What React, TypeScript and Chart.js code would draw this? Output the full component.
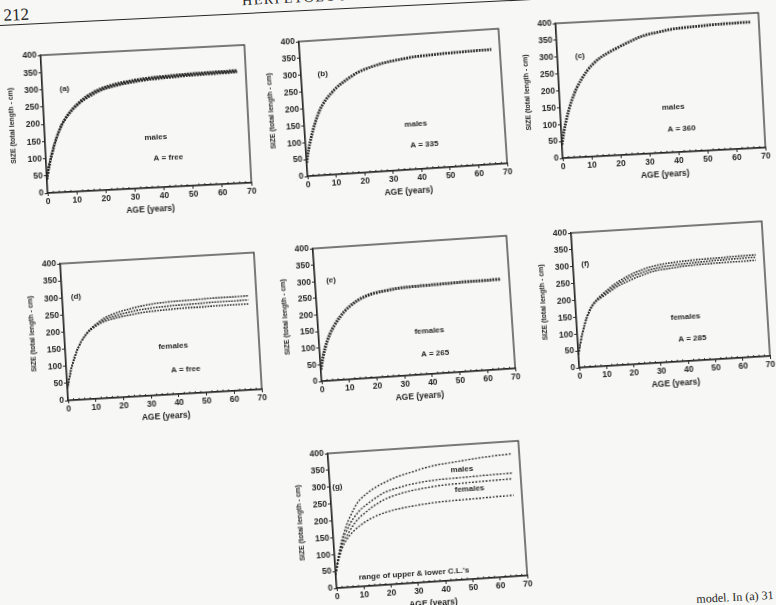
import React, { useEffect, useRef } from "react";
import { Chart, registerables } from "chart.js";

Chart.register(...registerables);

// ---------- data ----------
const AGES = [0, 1, 2, 3, 4, 5, 6, 8, 10, 12, 15, 20, 25, 30, 35, 40, 45, 50, 55, 60, 67];
const X_TICKS = [0, 10, 20, 30, 40, 50, 60, 70];
const Y_TICKS = [0, 50, 100, 150, 200, 250, 300, 350, 400];
const X_MINOR = [2, 4, 6, 8, 12, 14, 16, 18, 22, 24, 26, 28, 32, 34, 36, 38, 42, 44, 46, 48, 52, 54, 56, 58, 62, 64, 66, 68];

// (a) males, A = free (fit + upper/lower C.L.)
const A_UPPER = [40, 78, 109, 136, 159, 179, 196, 221, 241, 256, 275, 295, 306, 313, 318, 321, 323, 325, 326, 327, 328];
const A_FIT = [40, 78, 108, 135, 158, 178, 195, 220, 239, 254, 272, 292, 303, 310, 315, 318, 320, 322, 323, 324, 325];
const A_LOWER = [40, 78, 107, 134, 157, 177, 194, 219, 237, 252, 269, 289, 300, 307, 312, 315, 317, 319, 320, 321, 322];
// (b) males, A = 335
const B_FIT = [40, 80, 110, 137, 160, 180, 197, 222, 240, 256, 274, 298, 312, 322, 328, 333, 335, 337, 338, 339, 340];
// (c) males, A = 360
const C_FIT = [40, 82, 114, 142, 166, 186, 204, 232, 255, 273, 293, 315, 334, 350, 358, 365, 368, 370, 372, 373, 374];
// (d) females, A = free
const D_UPPER = [35, 68, 97, 120, 140, 156, 170, 192, 208, 220, 235, 249, 258, 265, 269, 271, 272, 273, 274, 274, 275];
const D_FIT = [35, 68, 97, 120, 140, 156, 170, 191, 206, 217, 230, 241, 249, 254, 257, 259, 260, 261, 262, 262, 263];
const D_LOWER = [35, 68, 97, 120, 140, 156, 170, 190, 204, 214, 225, 234, 240, 245, 247, 249, 250, 250, 251, 251, 251];
// (e) females, A = 265
const E_FIT = [35, 70, 98, 120, 138, 153, 166, 188, 206, 220, 236, 252, 259, 264, 266, 267, 268, 269, 270, 270, 271];
// (f) females, A = 285
const F_UPPER = [40, 74, 104, 128, 150, 167, 181, 199, 213, 225, 242, 263, 278, 288, 293, 296, 298, 299, 300, 301, 302];
const F_FIT = [40, 74, 104, 128, 150, 166, 180, 197, 209, 220, 236, 256, 270, 280, 285, 288, 290, 292, 293, 294, 295];
const F_LOWER = [40, 74, 104, 128, 149, 165, 178, 195, 205, 215, 230, 248, 262, 273, 277, 281, 283, 284, 285, 285, 286];
// (g) range of upper & lower C.L.'s
const G_MALES_UPPER = [40, 80, 112, 140, 162, 182, 199, 228, 252, 266, 283, 303, 318, 328, 338, 345, 349, 353, 357, 360, 363];
const G_MALES_LOWER = [40, 78, 107, 132, 153, 167, 182, 205, 223, 236, 252, 274, 285, 293, 298, 301, 302, 303, 304, 305, 306];
const G_FEMALES_UPPER = [40, 75, 102, 125, 142, 152, 165, 187, 204, 216, 233, 254, 266, 274, 279, 283, 285, 286, 287, 288, 289];
const G_FEMALES_LOWER = [40, 72, 97, 117, 132, 143, 153, 168, 180, 190, 202, 215, 223, 228, 232, 235, 236, 237, 238, 239, 240];

// ---------- style / layout ----------
const INK = "#262626";
const FONT = "'Liberation Sans', Arial, Helvetica, sans-serif";
const L = 36, R = 10, T = 8, B = 27;

type Note = { text: string; x: number; y: number };
type PanelCfg = {
  id: string; cx: number; cy: number; w: number; h: number; rot: number;
  series: number[][]; width: number; dash: number[]; notes: Note[];
};

const PANELS: PanelCfg[] = [
  { id: "a", cx: 146, cy: 119, w: 204, h: 138, rot: -2.9, series: [A_UPPER, A_FIT, A_LOWER], width: 2.2, dash: [1.8, 1.0],
    notes: [{ text: "(a)", x: 7.6, y: 300 }, { text: "males", x: 38, y: 145 }, { text: "A = free", x: 42, y: 85 }] },
  { id: "b", cx: 403, cy: 102, w: 200, h: 135, rot: -3.7, series: [B_FIT], width: 2.8, dash: [1.8, 1.0],
    notes: [{ text: "(b)", x: 7.6, y: 300 }, { text: "males", x: 39, y: 135 }, { text: "A = 335", x: 41.5, y: 72 }] },
  { id: "c", cx: 660, cy: 85, w: 203, h: 135, rot: -3.0, series: [C_FIT], width: 2.8, dash: [1.8, 1.0],
    notes: [{ text: "(c)", x: 7.8, y: 300 }, { text: "males", x: 39, y: 135 }, { text: "A = 360", x: 41.5, y: 70 }] },
  { id: "d", cx: 161, cy: 326, w: 194, h: 137, rot: -3.3, series: [D_UPPER, D_FIT, D_LOWER], width: 1.6, dash: [1.6, 1.2],
    notes: [{ text: "(d)", x: 5, y: 300 }, { text: "females", x: 39, y: 140 }, { text: "A = free", x: 43, y: 72 }] },
  { id: "e", cx: 414, cy: 308, w: 194, h: 133, rot: -3.8, series: [E_FIT], width: 3.0, dash: [1.8, 1.0],
    notes: [{ text: "(e)", x: 5.8, y: 300 }, { text: "females", x: 40, y: 130 }, { text: "A = 265", x: 41.5, y: 60 }] },
  { id: "f", cx: 670, cy: 294, w: 191, h: 135, rot: -3.5, series: [F_UPPER, F_FIT, F_LOWER], width: 1.6, dash: [1.6, 1.2],
    notes: [{ text: "(f)", x: 4.5, y: 305 }, { text: "females", x: 40, y: 132 }, { text: "A = 285", x: 42, y: 65 }] },
  { id: "g", cx: 427, cy: 514, w: 191, h: 135, rot: -3.8,
    series: [G_MALES_UPPER, G_MALES_LOWER, G_FEMALES_UPPER, G_FEMALES_LOWER], width: 1.4, dash: [1.8, 1.6],
    notes: [{ text: "(g)", x: 2.7, y: 300 }, { text: "males", x: 48.7, y: 327 }, { text: "females", x: 51, y: 267 },
      { text: "range of upper & lower C.L.'s", x: 28.6, y: 28 }] },
];

function makeFramePlugin(notes: Note[]) {
  return {
    id: "frame",
    afterDraw(chart: any) {
      const { ctx, chartArea: a, scales } = chart;
      const xs = scales.x, ys = scales.y;
      ctx.save();
      ctx.strokeStyle = INK;
      ctx.lineWidth = 1.2;
      ctx.strokeRect(a.left, a.top, a.right - a.left, a.bottom - a.top);
      ctx.lineWidth = 0.9;
      ctx.beginPath();
      for (const v of X_MINOR) {
        const px = xs.getPixelForValue(v);
        ctx.moveTo(px, a.bottom);
        ctx.lineTo(px, a.bottom - 2);
      }
      ctx.stroke();
      ctx.fillStyle = INK;
      ctx.textAlign = "center";
      ctx.textBaseline = "middle";
      ctx.font = `bold 8px ${FONT}`;
      for (const n of notes) {
        ctx.fillText(n.text, xs.getPixelForValue(n.x), ys.getPixelForValue(n.y));
      }
      ctx.restore();
    },
  };
}

function Panel({ cfg }: { cfg: PanelCfg }) {
  const ref = useRef<HTMLCanvasElement>(null);
  const W = L + cfg.w + R;
  const H = T + cfg.h + B;
  useEffect(() => {
    const chart = new Chart(ref.current as HTMLCanvasElement, {
      type: "line",
      data: {
        datasets: cfg.series.map((vals) => ({
          data: AGES.map((age, i) => ({ x: age, y: vals[i] })),
          borderColor: INK,
          borderWidth: cfg.width,
          borderDash: cfg.dash,
          pointRadius: 0,
          fill: false,
          cubicInterpolationMode: "monotone" as const,
        })),
      },
      options: {
        responsive: false,
        animation: false,
        events: [],
        layout: { padding: { top: T, right: R, left: 0, bottom: 0 } },
        plugins: { legend: { display: false }, tooltip: { enabled: false } },
        scales: {
          x: {
            type: "linear",
            min: 0,
            max: 70,
            afterBuildTicks: (s: any) => { s.ticks = X_TICKS.map((v) => ({ value: v })); },
            afterFit: (s: any) => { s.height = B; },
            ticks: { color: INK, font: { family: FONT, size: 8.5, weight: "bold" }, padding: 1, maxRotation: 0 },
            grid: { drawOnChartArea: false, drawTicks: true, tickLength: 3, color: INK, lineWidth: 1 },
            border: { display: true, color: INK, width: 1.2 },
            title: { display: true, text: "AGE (years)", color: INK, font: { family: FONT, size: 8.5, weight: "bold" }, padding: { top: 0, bottom: 0 } },
          },
          y: {
            type: "linear",
            min: 0,
            max: 400,
            afterBuildTicks: (s: any) => { s.ticks = Y_TICKS.map((v) => ({ value: v })); },
            afterFit: (s: any) => { s.width = L; },
            ticks: { color: INK, font: { family: FONT, size: 8.5, weight: "bold" }, padding: 1 },
            grid: { drawOnChartArea: false, drawTicks: true, tickLength: 3, color: INK, lineWidth: 1 },
            border: { display: true, color: INK, width: 1.2 },
            title: { display: true, text: "SIZE (total length - cm)", color: INK, font: { family: FONT, size: 7, weight: "bold" }, padding: { top: 0, bottom: 0 } },
          },
        },
      } as any,
      plugins: [makeFramePlugin(cfg.notes)],
    });
    return () => chart.destroy();
  }, []);
  return (
    <canvas
      ref={ref}
      width={W}
      height={H}
      style={{
        position: "absolute",
        left: cfg.cx - (L + cfg.w / 2),
        top: cfg.cy - (T + cfg.h / 2),
        width: W,
        height: H,
        transform: `rotate(${cfg.rot}deg)`,
        transformOrigin: `${L + cfg.w / 2}px ${T + cfg.h / 2}px`,
      }}
    />
  );
}

export default function App() {
  return (
    <div
      style={{
        position: "fixed",
        left: 0,
        top: 0,
        width: 776,
        height: 605,
        overflow: "hidden",
        background: "#f7f7f5",
        color: INK,
      }}
    >
      <div
        style={{
          position: "absolute",
          left: 0,
          top: 0,
          width: 820,
          height: 25,
          borderBottom: `1.5px solid ${INK}`,
          transform: "rotate(-2.8deg)",
          transformOrigin: "0px 25px",
          fontFamily: "'Liberation Serif', 'DejaVu Serif', serif",
        }}
      >
        <span style={{ position: "absolute", left: 4, top: 6, fontSize: 17 }}>212</span>
        <span style={{ position: "absolute", left: 243, top: 5, fontSize: 14, letterSpacing: 1.5 }}>HERPETOLOGICA</span>
      </div>
      {PANELS.map((p) => (
        <Panel key={p.id} cfg={p} />
      ))}
      <div
        style={{
          position: "absolute",
          left: 696,
          top: 592,
          fontSize: 12,
          whiteSpace: "nowrap",
          fontFamily: "'Liberation Serif', 'DejaVu Serif', serif",
          transform: "rotate(-3deg)",
          transformOrigin: "0px 0px",
        }}
      >
        model. In (a) 31
      </div>
    </div>
  );
}
